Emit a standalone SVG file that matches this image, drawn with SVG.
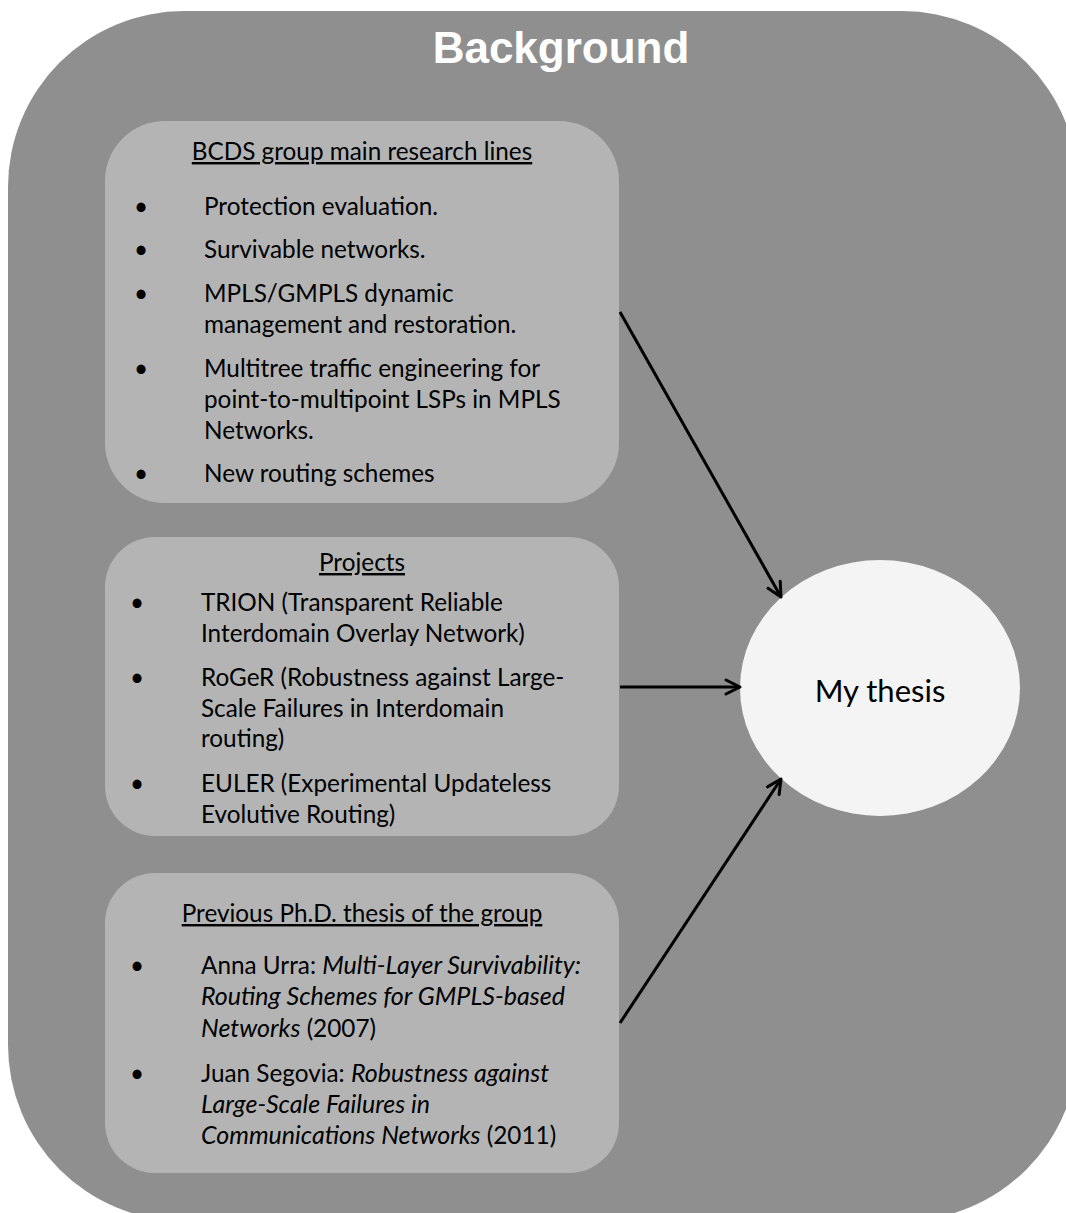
<svg xmlns="http://www.w3.org/2000/svg" width="1066" height="1213" viewBox="0 0 1066 1213">
<style>
.bg{fill:#8f8f8f}
.box{fill:#b4b4b4}
.t{font-family:Lato,"Open Sans","Liberation Sans",sans-serif;font-size:24.3px;fill:#000}
.h{text-anchor:middle;text-decoration:underline}
.b{text-anchor:middle}
.i{font-style:italic;font-size:25px}
.big{font-size:31px;text-anchor:middle}
.conn{stroke:#000;stroke-width:3;fill:none;marker-end:url(#arr)}
</style>
<defs>
<marker id="arr" markerUnits="userSpaceOnUse" markerWidth="22" markerHeight="22" viewBox="0 0 22 22" refX="19" refY="11" orient="auto">
<path d="M5,4 L19,11 L5,18" fill="none" stroke="#000" stroke-width="3" stroke-linecap="round" stroke-linejoin="round"/>
</marker>
</defs>
<rect width="1066" height="1213" fill="#fff"/>
<g id="background">
<rect class="bg" x="8" y="11" width="1070" height="1210" rx="176" ry="176"/>
<text x="561" y="63" text-anchor="middle" font-family="'Liberation Sans',Arial,sans-serif" font-weight="bold" font-size="44" fill="#fff">Background</text>
</g>
<g id="research-lines">
<rect class="box" x="105" y="121" width="514" height="382" rx="60" ry="60"/>
<text class="t h" x="362" y="160">BCDS group main research lines</text>
<text class="t b" x="141" y="215">•</text>
<text class="t b" x="141" y="258">•</text>
<text class="t b" x="141" y="302">•</text>
<text class="t b" x="141" y="377">•</text>
<text class="t b" x="141" y="482">•</text>
<text class="t" x="204" y="215">Protection evaluation.</text>
<text class="t" x="204" y="258">Survivable networks.</text>
<text class="t" x="204" y="302">MPLS/GMPLS dynamic</text>
<text class="t" x="204" y="333">management and restoration.</text>
<text class="t" x="204" y="377">Multitree traffic engineering for</text>
<text class="t" x="204" y="408">point-to-multipoint LSPs in MPLS</text>
<text class="t" x="204" y="439">Networks.</text>
<text class="t" x="204" y="482">New routing schemes</text>
</g>
<g id="projects">
<rect class="box" x="105" y="537" width="514" height="299" rx="50" ry="50"/>
<text class="t h" x="362" y="571">Projects</text>
<text class="t b" x="137" y="611">•</text>
<text class="t b" x="137" y="686">•</text>
<text class="t b" x="137" y="792">•</text>
<text class="t" x="201" y="611">TRION (Transparent Reliable</text>
<text class="t" x="201" y="642">Interdomain Overlay Network)</text>
<text class="t" x="201" y="686">RoGeR (Robustness against Large-</text>
<text class="t" x="201" y="717">Scale Failures in Interdomain</text>
<text class="t" x="201" y="747">routing)</text>
<text class="t" x="201" y="792">EULER (Experimental Updateless</text>
<text class="t" x="201" y="823">Evolutive Routing)</text>
</g>
<g id="previous-thesis">
<rect class="box" x="105" y="873" width="514" height="300" rx="50" ry="50"/>
<text class="t h" x="362" y="922">Previous Ph.D. thesis of the group</text>
<text class="t b" x="137" y="974">•</text>
<text class="t b" x="137" y="1082">•</text>
<text class="t" x="201" y="974">Anna Urra: <tspan class="i">Multi-Layer Survivability:</tspan></text>
<text class="t i" x="201" y="1005">Routing Schemes for GMPLS-based</text>
<text class="t" x="201" y="1037"><tspan class="i">Networks</tspan> (2007)</text>
<text class="t" x="201" y="1082">Juan Segovia: <tspan class="i">Robustness against</tspan></text>
<text class="t i" x="201" y="1113">Large-Scale Failures in</text>
<text class="t" x="201" y="1144"><tspan class="i">Communications Networks</tspan> (2011)</text>
</g>
<g id="my-thesis">
<ellipse cx="880" cy="688" rx="140" ry="128" fill="#f4f4f4"/>
<text class="t big" x="880" y="702">My thesis</text>
</g>
<g id="connectors">
<line class="conn" x1="620" y1="312" x2="781" y2="597"/>
<line class="conn" x1="620" y1="687" x2="740" y2="687"/>
<line class="conn" x1="620" y1="1023" x2="781" y2="779"/>
</g>
</svg>
